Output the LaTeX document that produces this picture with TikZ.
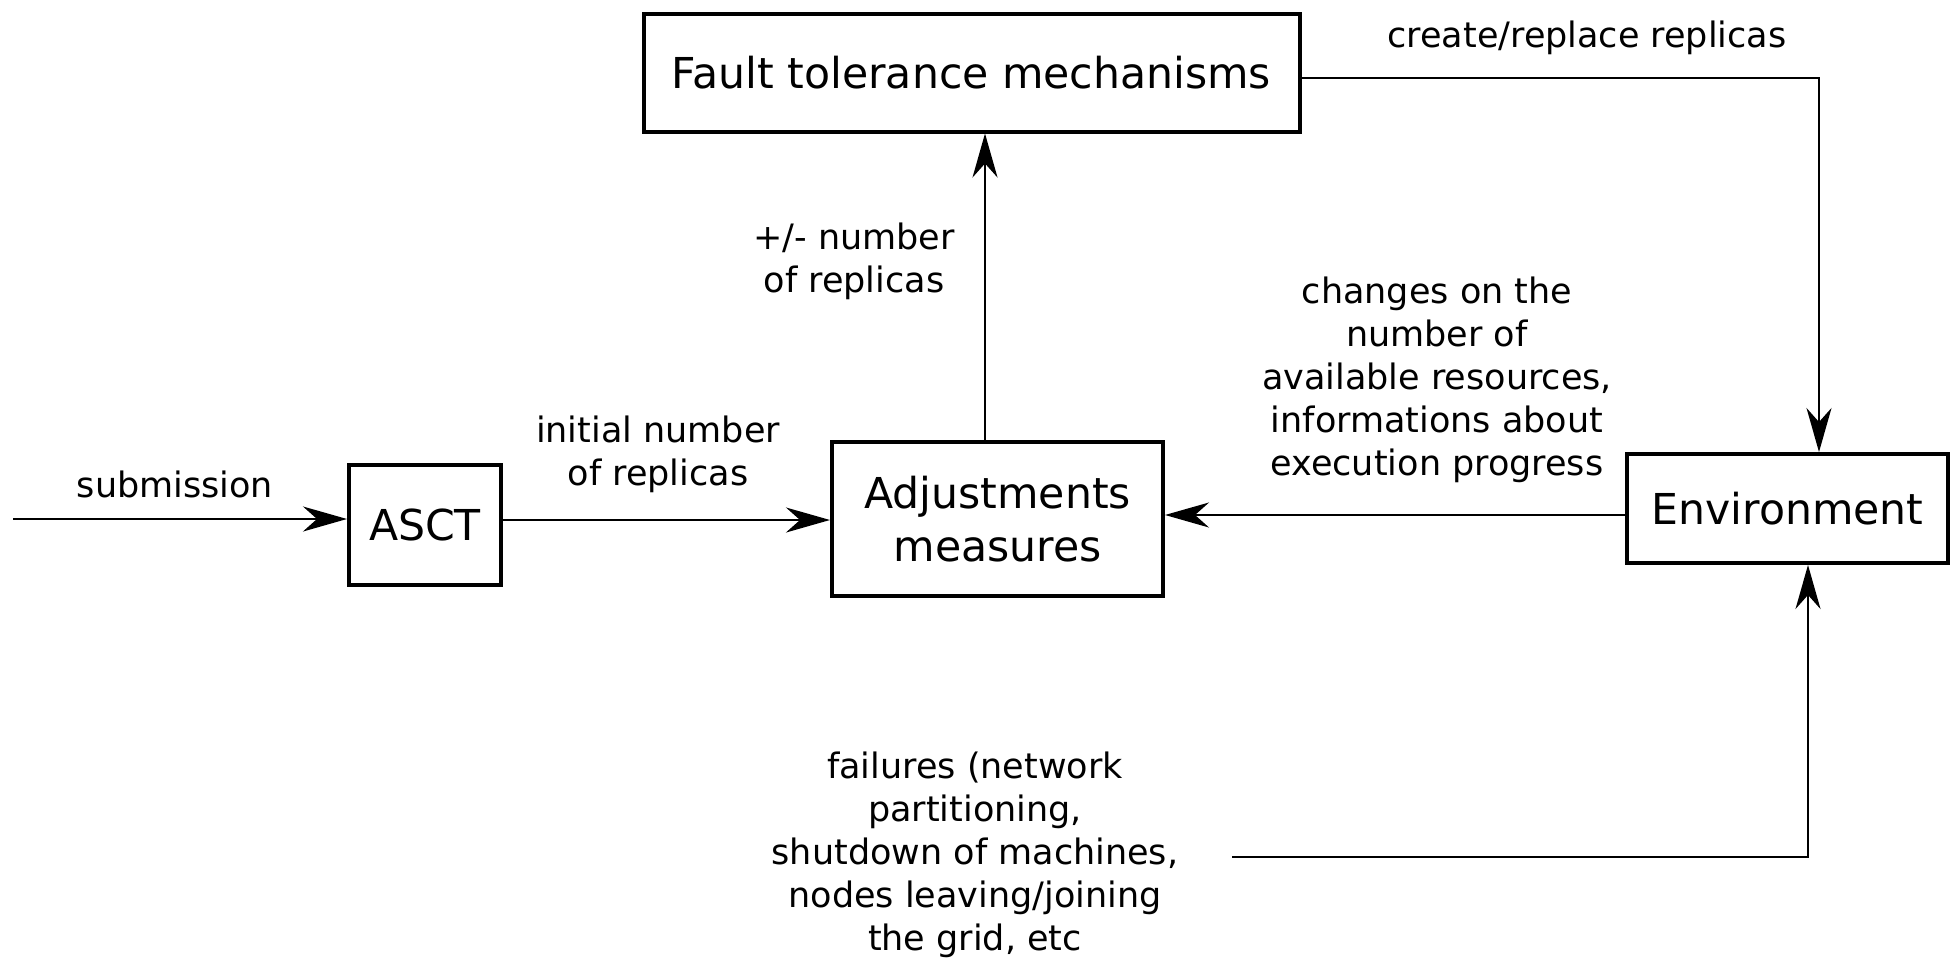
\documentclass[tikz,border=0pt]{standalone}
\usepackage{fontspec}
\setmainfont{DejaVu Sans}
\usetikzlibrary{arrows.meta}

\begin{document}
\begin{tikzpicture}[x=0.5pt,y=-0.5pt,
  block/.style={draw, line width=2pt, inner sep=0pt, align=center,
    font=\fontsize{21.3pt}{26.5pt}\selectfont},
  lbl/.style={inner sep=0pt, align=center, anchor=base,
    font=\fontsize{17.5pt}{21.5pt}\selectfont},
  flow/.style={line width=1pt, -{Stealth[length=22pt,width=12.5pt,inset=7pt]}}]

  \useasboundingbox (0,0) rectangle (1956,958);

  % blocks
  \node[block, minimum width=328pt, minimum height=59pt] (fault) at (971.5,72.5)
    {Fault tolerance mechanisms};
  \node[block, minimum width=76pt, minimum height=60pt] (asct) at (425,525) {ASCT};
  \node[block, minimum width=165.5pt, minimum height=77pt] (adj) at (997.5,519)
    {Adjustments\\measures};
  \node[block, minimum width=160.5pt, minimum height=54.5pt] (env) at (1787.5,508.5)
    {Environment};

  % free ends of the incoming lines
  \coordinate (src) at (13,519);
  \coordinate (fail) at (1232,857);

  % connectors
  \draw[flow] (src) -- (src -| asct.west);
  \draw[flow] (asct.east |- 0,520) -- (adj.west |- 0,520);
  \draw[flow] (adj.north -| 985,0) -- (fault.south -| 985,0);
  \draw[flow] (fault.east |- 0,78) -| (env.north -| 1819,0);
  \draw[flow] (env.west |- 0,515) -- (adj.east |- 0,515);
  \draw[flow] (fail) -| (env.south -| 1808,0);

  % labels (anchored at the baseline of their last line)
  \node[lbl] (lsub) at (175,497) {submission};
  \node[lbl] (linit) at (658,485) {initial number\\of replicas};
  \node[lbl] (lpm) at (854,292) {+/- number\\of replicas};
  \node[lbl] (lchg) at (1437,475)
    {changes on the\\number of\\available resources,\\informations about\\execution progress};
  \node[lbl] (lcre) at (1587,47) {create/replace replicas};
  \node[lbl] (lfail) at (975,950)
    {failures (network\\partitioning,\\shutdown of machines,\\nodes leaving/joining\\the grid, etc};
\end{tikzpicture}
\end{document}
